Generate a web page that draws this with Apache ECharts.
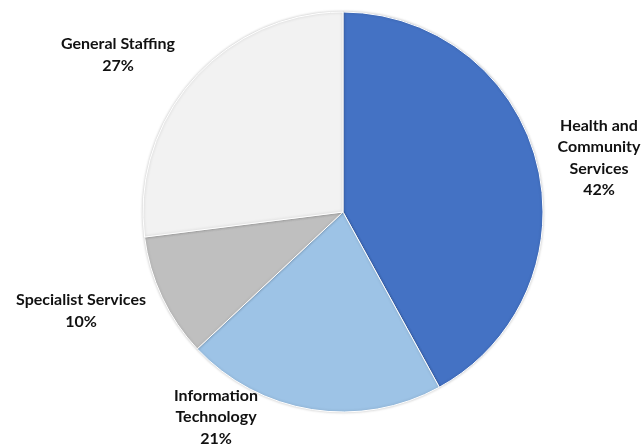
<!DOCTYPE html>
<html>
<head>
<meta charset="utf-8">
<script src="https://cdn.jsdelivr.net/npm/echarts@6/dist/echarts.min.js"></script>
<style>
  html, body { margin: 0; padding: 0; background: #fff; }
  #chart { width: 644px; height: 448px; }
</style>
</head>
<body>
<div id="chart"></div>
<script>
// Share of placements by sector (percent)
const categories = ['Health and Community Services', 'Information Technology', 'Specialist Services', 'General Staffing'];
const labelText = ['Health and\nCommunity\nServices', 'Information\nTechnology', 'Specialist Services', 'General Staffing'];
const values = [42, 21, 10, 27];
const colors = ['#4472C4', '#9DC3E6', '#BFBFBF', '#F2F2F2'];

// Label anchor points (centre of each text block)
const labelSpots = [[599, 158], [216, 417], [81, 311], [118, 55]];

const chart = echarts.init(document.getElementById('chart'), null, { renderer: 'canvas' });
chart.setOption({
  animation: false,
  series: [{
    type: 'pie',
    center: [343, 212],
    radius: [0, 200],
    startAngle: 90,
    clockwise: true,
    data: categories.map((c, i) => ({
      name: c,
      value: values[i],
      itemStyle: { color: colors[i] }
    })),
    itemStyle: {
      borderColor: '#ffffff',
      borderWidth: 1,
      shadowBlur: 3,
      shadowColor: 'rgba(0,0,0,0.22)'
    },
    label: {
      show: true,
      position: 'outside',
      formatter: p => labelText[p.dataIndex] + '\n' + p.value + '%',
      fontFamily: 'Lato',
      fontWeight: 'bold',
      fontSize: 16,
      lineHeight: 21.5,
      color: '#111',
      align: 'center',
      overflow: 'none',
      width: 200
    },
    labelLine: { show: false },
    labelLayout: p => ({
      x: labelSpots[p.dataIndex][0],
      y: labelSpots[p.dataIndex][1],
      align: 'center',
      verticalAlign: 'middle'
    })
  }]
});
</script>
</body>
</html>
